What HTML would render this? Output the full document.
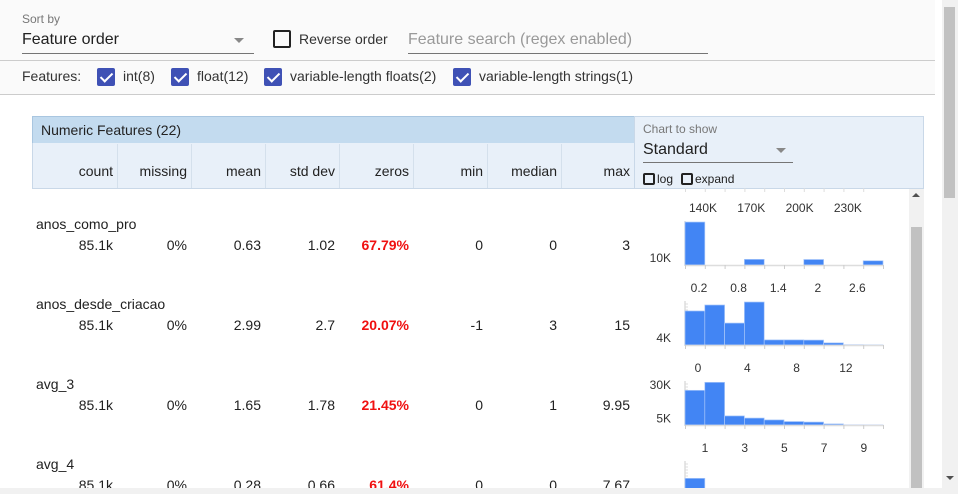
<!DOCTYPE html>
<html><head><meta charset="utf-8">
<style>
*{box-sizing:border-box;margin:0;padding:0}
body{width:958px;height:494px;overflow:hidden;background:#fff;font-family:"Liberation Sans",sans-serif;color:#212121;position:relative}
.abs{position:absolute}
.num{position:absolute;font-size:14px;text-align:right;width:70px}
.hdr{position:absolute;font-size:14px;text-align:right;width:70px;top:163px;color:#222}
.cb{position:absolute;width:18px;height:18px;background:#3f51b5;border-radius:2px;top:68px}
.cb:after{content:"";position:absolute;left:6px;top:2px;width:5px;height:10px;border:solid #fff;border-width:0 2px 2px 0;transform:rotate(45deg)}
.fl{position:absolute;top:68px;font-size:14px;color:#333}
</style></head><body>
<div class="abs" style="left:0;top:0;width:935px;height:95px;background:#fafafa;border-bottom:1px solid #ccc"></div>
<div class="abs" style="left:0;top:60px;width:935px;height:1px;background:#ccc"></div>
<div class="abs" style="left:22px;top:12px;font-size:12px;color:#777">Sort by</div>
<div class="abs" style="left:22px;top:31px;width:162px;height:22px;font-size:16px;color:#212121">Feature order<span style="position:absolute;left:212px;top:7px;width:0;height:0;border:5px solid transparent;border-top-color:#888"></span></div>
<div class="abs" style="left:22px;top:53px;width:232px;height:1px;background:#757575"></div>
<div class="abs" style="left:273px;top:30px;width:18px;height:18px;border:2px solid #222;border-radius:2px"></div>
<div class="abs" style="left:299px;top:31px;font-size:14px;color:#333">Reverse order</div>
<div class="abs" style="left:408px;top:31px;width:300px;height:23px;border-bottom:1px solid #757575;font-size:16px;color:#999">Feature search (regex enabled)</div>
<div class="fl" style="left:22px">Features:</div>
<div class="cb" style="left:97px"></div>
<div class="fl" style="left:123px">int(8)</div>
<div class="cb" style="left:171px"></div>
<div class="fl" style="left:197px">float(12)</div>
<div class="cb" style="left:264px"></div>
<div class="fl" style="left:290px">variable-length floats(2)</div>
<div class="cb" style="left:453px"></div>
<div class="fl" style="left:479px">variable-length strings(1)</div>

<div class="abs" style="left:32px;top:116px;width:603px;height:28px;background:#c3dbef;border:1px solid #a9c6e0"></div>
<div class="abs" style="left:41px;top:122px;font-size:14px;color:#222">Numeric Features (22)</div>
<div class="abs" style="left:32px;top:143px;width:603px;height:46px;background:#e8f0f9;border:1px solid #c9d8e8;border-top:none"></div>
<div class="abs" style="left:634px;top:116px;width:290px;height:73px;background:#e8f0f9;border:1px solid #c9d8e8"></div>
<div class="abs" style="left:643px;top:122px;font-size:12px;color:#777">Chart to show</div>
<div class="abs" style="left:643px;top:141px;width:150px;height:22px;border-bottom:1px solid #757575;font-size:16px">Standard<span style="position:absolute;left:133px;top:7px;border:5px solid transparent;border-top-color:#888"></span></div>
<div class="abs" style="left:643px;top:173px;width:12px;height:12px;border:2px solid #222;border-radius:2px"></div>
<div class="abs" style="left:657px;top:172px;font-size:12px">log</div>
<div class="abs" style="left:681px;top:173px;width:12px;height:12px;border:2px solid #222;border-radius:2px"></div>
<div class="abs" style="left:695px;top:172px;font-size:12px">expand</div>

<div id="tbl"></div>
<svg id="charts" class="abs" style="left:0;top:0" width="958" height="494"></svg>

<div class="abs" style="left:909px;top:189px;width:15px;height:299px;background:#f1f1f1"></div>
<div class="abs" style="left:911px;top:227px;width:11px;height:261px;background:#c1c1c1"></div>
<div class="abs" style="left:912px;top:193px;border:4px solid transparent;border-bottom-color:#505050;border-top:none;width:0;height:0"></div>
<div class="abs" style="left:942px;top:0;width:16px;height:494px;background:#f1f1f1"></div>
<div class="abs" style="left:944px;top:7px;width:11px;height:191px;background:#c1c1c1"></div>
<div class="abs" style="left:946px;top:476px;border:4px solid transparent;border-top-color:#505050;border-bottom:none;width:0;height:0"></div>
<div class="abs" style="left:0;top:488px;width:942px;height:6px;background:#f1f1f1"></div>

<script>
const columns=["count","missing","mean","std dev","zeros","min","median","max"];
const featureNames=["anos_como_pro","anos_desde_criacao","avg_3","avg_4"];
const countVals=["85.1k","85.1k","85.1k","85.1k"];
const missingVals=["0%","0%","0%","0%"];
const meanVals=["0.63","2.99","1.65","0.28"];
const stdVals=["1.02","2.7","1.78","0.66"];
const zerosVals=["67.79%","20.07%","21.45%","61.4%"];
const minVals=["0","-1","0","0"];
const medianVals=["0","3","1","0"];
const maxVals=["3","15","9.95","7.67"];
const hist1=[61000,0,0,8000,0,0,7800,0,0,6000];
const hist2=[19400,22800,12500,24500,2900,2900,2800,1200,150,50];
const hist3=[26000,32000,6800,5200,3800,2600,2200,800,100,50];
const hist4=[40000,0,0,0,0,0,0,0,0,0];
const xLabels1=["140K","170K","200K","230K"];
const xLabels2=["0.2","0.8","1.4","2","2.6"];
const xLabels3=["0","4","8","12"];
const xLabels4=["1","3","5","7","9"];
const yLabels1=["10K"],yLabelVals1=[10000];
const yLabels2=["4K"],yLabelVals2=[4000];
const yLabels3=["30K","5K"],yLabelVals3=[30000,5000];
const yLabels4=[],yLabelVals4=[];

const tbl=document.getElementById('tbl');
const colRight=[113,187,261,335,409,483,557,630];
const colBorders=[117,191,265,339,413,487,561];
colBorders.forEach(x=>{const d=document.createElement('div');d.className='abs';d.style.cssText=`left:${x}px;top:144px;width:1px;height:44px;background:#d4e0ec`;


tbl.appendChild(d);});
columns.forEach((c,i)=>{const d=document.createElement('div');d.className='hdr';d.style.left=(colRight[i]-70)+'px';d.textContent=c;


tbl.appendChild(d);});
const cols=[countVals,missingVals,meanVals,stdVals,zerosVals,minVals,medianVals,maxVals];
featureNames.forEach((n,r)=>{
  const y=216+r*80;
  const nm=document.createElement('div');nm.className='abs';nm.style.cssText=`left:36px;top:${y}px;font-size:14px`;nm.textContent=n;
  
  
  tbl.appendChild(nm);
  cols.forEach((arr,i)=>{const d=document.createElement('div');d.className='num';d.style.left=(colRight[i]-70)+'px';d.style.top=(y+21)+'px';d.textContent=arr[r];
    if(i===4){d.style.color='#f01010';d.style.fontWeight='bold';}
    
    
    tbl.appendChild(d);});
});

const svg=document.getElementById('charts');const NS='http://www.w3.org/2000/svg';
function el(t,a,p){const e=document.createElementNS(NS,t);for(const k in a)e.setAttribute(k,a[k]);(p||svg).appendChild(e);return e;}
const X0=685,BW=19.8;
for(let i=0;i<10;i++){const l=el('line',{x1:X0+i*BW+.5,x2:X0+i*BW+.5,y1:188,y2:192,stroke:'#ddd'});

}
function chart(vals,xl,xlStart,xlStep,yl,ylv,base,pxPer){
  const g=el('g',{});
  
  
  const y=v=>base-v/pxPer;
  xl.forEach((t,i)=>{const e=el('text',{x:xlStart+i*xlStep,y:base-53,'font-size':12,'text-anchor':'middle',fill:'#333','font-family':'Liberation Sans'},g);e.textContent=t;
    
    });
  el('line',{x1:X0,x2:X0,y1:base-44,y2:base+1,stroke:'#ddd','stroke-width':1.5},g);
  for(let k=0;k<14;k++)el('line',{x1:X0,x2:X0+3,y1:base-2-k*3,y2:base-2-k*3,stroke:'#ddd'},g);
  vals.forEach((v,i)=>{const h=v/pxPer;if(h<=0)return;const r=el('rect',{x:X0+i*BW,y:y(v),width:BW,height:h,fill:'#4285f4',stroke:'#a8c7fa','stroke-width':.7},g);
    
    });
  el('line',{x1:X0,x2:X0+10*BW,y1:base+.5,y2:base+.5,stroke:'#ddd','stroke-width':1.5},g);
  for(let i=0;i<=10;i++)el('line',{x1:X0+i*BW+.5,x2:X0+i*BW+.5,y1:base,y2:base+4,stroke:'#ccc'},g);
  yl.forEach((t,i)=>{const e=el('text',{x:671,y:y(ylv[i])+4,'font-size':12,'text-anchor':'end',fill:'#333','font-family':'Liberation Sans'},g);e.textContent=t;
    
    });
}
chart(hist1,xLabels1,703,48.3,yLabels1,yLabelVals1,265,1420);
chart(hist2,xLabels2,699,39.6,yLabels2,yLabelVals2,345,570);
chart(hist3,xLabels3,698,49.3,yLabels3,yLabelVals3,425,750);
chart(hist4,xLabels4,705,39.7,yLabels4,yLabelVals4,505,1500);
</script>
</body></html>
